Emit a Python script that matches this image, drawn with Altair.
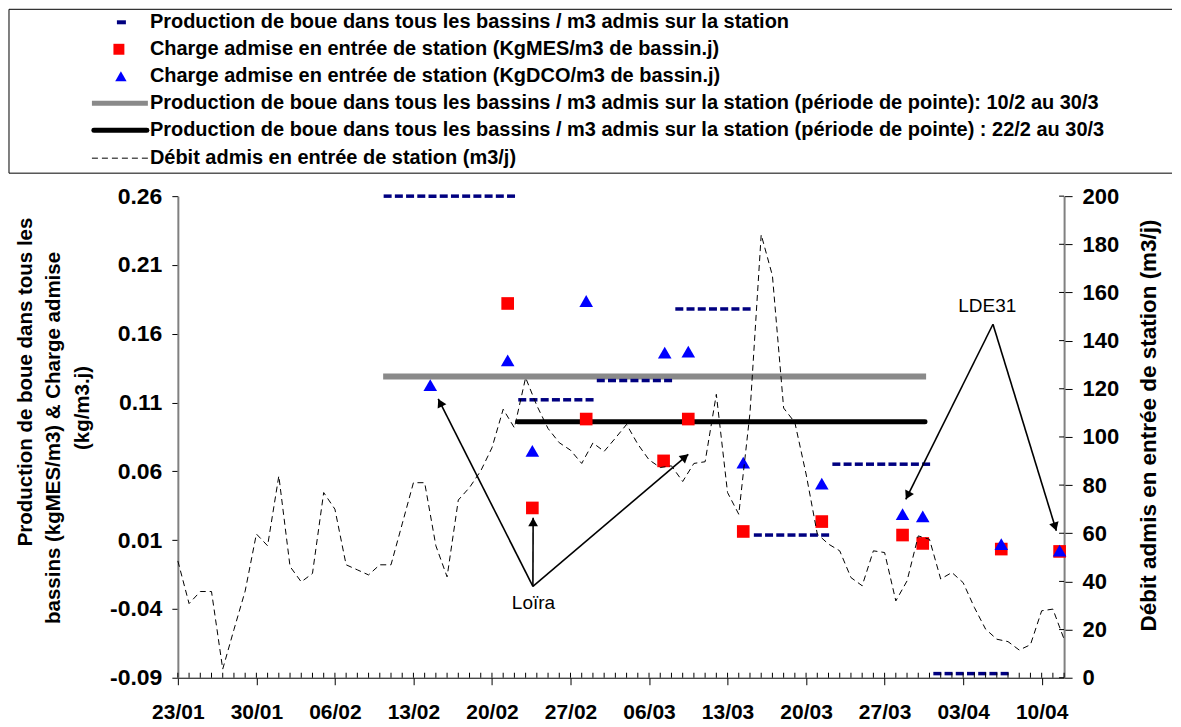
import json
import math
import altair as alt
import pandas as pd

FONT = "Liberation Sans"

# ---------------- data ----------------
date_labels = ["23/01", "30/01", "06/02", "13/02", "20/02", "27/02",
               "06/03", "13/03", "20/03", "27/03", "03/04", "10/04"]
n_days = 79  # 23/01 -> 12/04

# Débit admis en entrée de station (m3/j), one value per day from 23/01
flow_values = [48.5, 30.8, 35.8, 35.8, 3.6, 20.0, 36.0, 59.7, 54.8, 83.8,
               46.2, 39.8, 43.3, 76.9, 70.0, 46.9, 44.8, 42.7, 46.9, 46.9,
               63.9, 81.0, 81.0, 54.8, 41.9, 73.8, 79.0, 85.9, 95.5, 111.5,
               103.8, 124.6, 113.0, 103.5, 97.6, 94.5, 89.0, 97.5, 94.0, 99.5,
               105.2, 97.0, 90.5, 87.3, 88.0, 81.5, 89.0, 89.7, 117.7, 76.9,
               67.9, 110.0, 184.0, 167.0, 112.0, 106.0, 84.6, 59.7, 55.5, 52.7,
               41.6, 38.2, 52.7, 52.0, 31.9, 40.2, 58.9, 57.5, 41.0, 43.7,
               39.5, 29.2, 20.2, 16.0, 15.0, 11.5, 13.7, 27.8, 28.5, 16.0]

# Production de boue / m3 admis (daily dash markers)
prod_start_day = 18.7
prod_values = [0.26, 0.26, 0.26, 0.26, 0.26, 0.26, 0.26, 0.26, 0.26, 0.26, 0.26, 0.26,
               0.112, 0.112, 0.112, 0.112, 0.112, 0.112, 0.112,
               0.126, 0.126, 0.126, 0.126, 0.126, 0.126, 0.126,
               0.178, 0.178, 0.178, 0.178, 0.178, 0.178, 0.178,
               0.0137, 0.0137, 0.0137, 0.0137, 0.0137, 0.0137, 0.0137,
               0.0652, 0.0652, 0.0652, 0.0652, 0.0652, 0.0652, 0.0652, 0.0652, 0.0652,
               -0.087, -0.087, -0.087, -0.087, -0.087, -0.087, -0.087]

mes_days = [29.4, 31.6, 36.4, 43.3, 45.5, 50.4, 57.4, 64.6, 66.4, 73.4, 78.6]
mes_values = [0.182, 0.0334, 0.098, 0.0676, 0.098, 0.0163, 0.0235, 0.0137, 0.0076, 0.0035, 0.0018]

dco_days = [22.5, 29.4, 31.6, 36.4, 43.4, 45.5, 50.4, 57.4, 64.6, 66.4, 73.4, 78.6]
dco_values = [0.1226, 0.1407, 0.0749, 0.1838, 0.1462, 0.147, 0.0664, 0.0511, 0.0289, 0.0272, 0.0071, 0.0023]

peak_start = [18.3, 30.3]
peak_end = [66.7, 66.6]
peak_values = [0.129, 0.096]

left_ticks = [-0.09, -0.04, 0.01, 0.06, 0.11, 0.16, 0.21, 0.26]
right_ticks = [0, 20, 40, 60, 80, 100, 120, 140, 160, 180, 200]

annot_labels = ["Lo\u00efra", "LDE31"]
annot_days = [31.7, 72.15]
annot_flow = [31.2, 154.4]
arrow_from_day = [31.65, 31.65, 31.65, 72.66, 72.66]
arrow_from_flow = [37.9, 37.9, 37.9, 146.8, 146.8]
arrow_to_day = [23.21, 31.67, 45.5, 64.89, 78.31]
arrow_to_flow = [115.8, 66.4, 92.8, 74.1, 61.0]

legend_labels = [
    "Production de boue dans tous les bassins / m3 admis sur la station",
    "Charge admise en entr\u00e9e de station (KgMES/m3 de bassin.j)",
    "Charge admise en entr\u00e9e de station (KgDCO/m3 de bassin.j)",
    "Production de boue dans tous les bassins / m3 admis sur la station (p\u00e9riode de pointe): 10/2 au 30/3",
    "Production de boue dans tous les bassins / m3 admis sur la station (p\u00e9riode de pointe) : 22/2 au 30/3",
    "D\u00e9bit admis en entr\u00e9e de station (m3/j)",
]

left_title = ["Production de boue dans tous les",
              "bassins (kgMES/m3) & Charge admise",
              "(kg/m3.j)"]
right_title = "D\u00e9bit admis en entr\u00e9e de station (m3/j)"

# ---------------- layout ----------------
W, H = 887, 482
NAVY, RED, BLUE, GRAY = "#000080", "#FF0000", "#0000FF", "#8a8a8a"

flow_df = pd.DataFrame({"d": list(range(len(flow_values))), "q": flow_values})
prod_df = pd.DataFrame({"d": [prod_start_day + i for i in range(len(prod_values))],
                        "v": prod_values})
mes_df = pd.DataFrame({"d": mes_days, "v": mes_values})
dco_df = pd.DataFrame({"d": dco_days, "v": dco_values})
peak_df = pd.DataFrame({"d0": peak_start, "d1": peak_end, "v": peak_values})
minor_df = pd.DataFrame({"d": list(range(n_days + 1))})
rtick_df = pd.DataFrame({"q": right_ticks})
annot_df = pd.DataFrame({"d": annot_days, "q": annot_flow, "label": annot_labels})
arrow_df = pd.DataFrame({"d0": arrow_from_day, "q0": arrow_from_flow,
                         "d1": arrow_to_day, "q1": arrow_to_flow})

# arrow heads: rotate a triangle along each arrow, back it off so the tip hits the end
HEAD_SIZE = 95
ppd = W / n_days
ppq = H / 200.0
back = 0.433 * math.sqrt(HEAD_SIZE)
hd, hq, ha = [], [], []
for d0, q0, d1, q1 in zip(arrow_from_day, arrow_from_flow, arrow_to_day, arrow_to_flow):
    dx = (d1 - d0) * ppd
    dy = -(q1 - q0) * ppq
    L = math.hypot(dx, dy)
    ux, uy = dx / L, dy / L
    ha.append(math.degrees(math.atan2(ux, -uy)) % 360)
    hd.append(d1 - ux * back / ppd)
    hq.append(q1 + uy * back / ppq)
head_df = pd.DataFrame({"d": hd, "q": hq, "ang": ha})

x_scale = alt.Scale(domain=[0, n_days], nice=False, zero=False)
x_axis = alt.Axis(
    values=[7 * i for i in range(len(date_labels))],
    labelExpr=json.dumps(date_labels) + "[round(datum.value / 7)]",
    labelFont=FONT, labelFontSize=21, labelFontWeight="bold", labelColor="black",
    labelFlush=False, labelOverlap=False, labelPadding=17,
    tickColor="black", tickSize=7, tickWidth=1,
    domainColor="black", domainWidth=1, grid=False, title=None,
)

def xq(field):
    return alt.X(field, type="quantitative", scale=x_scale, axis=x_axis)

y_left_scale = alt.Scale(domain=[-0.09, 0.26], nice=False, zero=False)
y_left_axis = alt.Axis(
    orient="left", values=left_ticks,
    labelExpr="replace(format(datum.value, '.2f'), '\u2212', '-')",
    labelFont=FONT, labelFontSize=23, labelFontWeight="bold", labelColor="black",
    labelPadding=10, tickColor="black", tickSize=6, tickWidth=1,
    domainColor="#808080", domainWidth=2, grid=False, title=None,
)

def yl(field):
    return alt.Y(field, type="quantitative", scale=y_left_scale, axis=y_left_axis)

y_right_scale = alt.Scale(domain=[0, 200], nice=False, zero=False)
y_right_axis = alt.Axis(
    orient="right", values=right_ticks, format="d",
    labelFont=FONT, labelFontSize=22, labelFontWeight="bold", labelColor="black",
    labelPadding=10, tickColor="black", tickSize=8, tickWidth=1,
    domainColor="#808080", domainWidth=2, grid=False,
    titleFont=FONT, titleFontSize=22.5, titleFontWeight="bold", titleColor="black",
    titleAngle=270, titleAlign="center", titleBaseline="middle",
    titleX=84, titleY=229,
)

def yr(field):
    return alt.Y(field, type="quantitative", scale=y_right_scale, axis=y_right_axis,
                 title=right_title)

# ---------------- group A : left scale ----------------
gray_line = alt.Chart(peak_df.iloc[[0]]).mark_rule(
    color=GRAY, strokeWidth=6, strokeCap="butt").encode(
    x=xq("d0"), x2="d1", y=yl("v"))
black_line = alt.Chart(peak_df.iloc[[1]]).mark_rule(
    color="black", strokeWidth=5, strokeCap="round").encode(
    x=xq("d0"), x2="d1", y=yl("v"))
prod_marks = alt.Chart(prod_df).mark_tick(
    orient="horizontal", size=8, thickness=3.5, color=NAVY, opacity=1).encode(
    x=xq("d"), y=yl("v"))
mes_marks = alt.Chart(mes_df).mark_point(
    shape="square", filled=True, size=160, color=RED, opacity=1).encode(
    x=xq("d"), y=yl("v"))
dco_marks = alt.Chart(dco_df).mark_point(
    shape="triangle-up", filled=True, size=185, color=BLUE, opacity=1).encode(
    x=xq("d"), y=yl("v"))
minor_ticks = alt.Chart(minor_df).mark_rule(color="black", strokeWidth=1).encode(
    x=xq("d"), y=alt.value(H - 5), y2=alt.value(H))

group_a = alt.layer(gray_line, black_line, prod_marks, mes_marks, dco_marks, minor_ticks)

# ---------------- group B : right scale ----------------
flow_line = alt.Chart(flow_df).mark_line(
    color="black", strokeWidth=1, strokeDash=[6, 4]).encode(
    x=xq("d"), y=yr("q"))
right_inner = alt.Chart(rtick_df).mark_rule(color="black", strokeWidth=1).encode(
    y=yr("q"), x=alt.value(W - 5), x2=alt.value(W))
arrows = alt.Chart(arrow_df).mark_rule(color="black", strokeWidth=1.6).encode(
    x=xq("d0"), x2="d1", y=yr("q0"), y2="q1")
heads = alt.Chart(head_df).mark_point(
    shape="triangle-up", filled=True, size=HEAD_SIZE, color="black", opacity=1).encode(
    x=xq("d"), y=yr("q"), angle=alt.Angle("ang:Q", scale=None))
annots = alt.Chart(annot_df).mark_text(
    font=FONT, fontSize=19, color="black", align="center", baseline="middle").encode(
    x=xq("d"), y=yr("q"), text="label:N")

group_b = alt.layer(flow_line, right_inner, arrows, heads, annots)

# ---------------- left axis title (three centred lines) ----------------
title_x = [-152, -124, -95]
title_y = [186, 242, 212]
title_layers = []
for line, tx, ty in zip(left_title, title_x, title_y):
    tdf = pd.DataFrame({"label": [line]})
    title_layers.append(alt.Chart(tdf).mark_text(
        font=FONT, fontSize=20.5, fontWeight="bold", color="black",
        angle=270, align="center", baseline="middle").encode(
        x=alt.value(tx), y=alt.value(ty), text="label:N"))

# ---------------- legend (drawn above the plot) ----------------
LEG_LEFT, LEG_TOP, LEG_BOTTOM, LEG_RIGHT = -169, -187, -23, 995
row_y = [-174, -147, -120, -93, -66, -38]
legend_layers = []
border_df = pd.DataFrame({"k": [0]})
legend_layers.append(alt.Chart(border_df).mark_rule(color="black", strokeWidth=1).encode(
    x=alt.value(LEG_LEFT), y=alt.value(LEG_TOP), y2=alt.value(LEG_BOTTOM)))
legend_layers.append(alt.Chart(border_df).mark_rule(color="black", strokeWidth=1).encode(
    x=alt.value(LEG_LEFT), x2=alt.value(LEG_RIGHT), y=alt.value(LEG_TOP)))
legend_layers.append(alt.Chart(border_df).mark_rule(color="black", strokeWidth=1).encode(
    x=alt.value(LEG_LEFT), x2=alt.value(LEG_RIGHT), y=alt.value(LEG_BOTTOM)))

for i, label in enumerate(legend_labels):
    ldf = pd.DataFrame({"label": [label]})
    y = row_y[i]
    if i == 0:
        sym = alt.Chart(ldf).mark_rule(color=NAVY, strokeWidth=4, strokeCap="butt").encode(
            x=alt.value(-61), x2=alt.value(-52), y=alt.value(y))
    elif i == 1:
        sym = alt.Chart(ldf).mark_point(shape="square", filled=True, size=120,
                                        color=RED, opacity=1).encode(
            x=alt.value(-59), y=alt.value(y))
    elif i == 2:
        sym = alt.Chart(ldf).mark_point(shape="triangle-up", filled=True, size=130,
                                        color=BLUE, opacity=1).encode(
            x=alt.value(-57), y=alt.value(y))
    elif i == 3:
        sym = alt.Chart(ldf).mark_rule(color=GRAY, strokeWidth=5, strokeCap="butt").encode(
            x=alt.value(-86), x2=alt.value(-30), y=alt.value(y))
    elif i == 4:
        sym = alt.Chart(ldf).mark_rule(color="black", strokeWidth=5, strokeCap="round").encode(
            x=alt.value(-84), x2=alt.value(-31), y=alt.value(y))
    else:
        sym = alt.Chart(ldf).mark_rule(color="black", strokeWidth=1, strokeDash=[6, 4]).encode(
            x=alt.value(-86), x2=alt.value(-30), y=alt.value(y))
    txt = alt.Chart(ldf).mark_text(font=FONT, fontSize=20, fontWeight="bold",
                                   color="black", align="left", baseline="middle").encode(
        x=alt.value(-28), y=alt.value(y), text="label:N")
    legend_layers.extend([sym, txt])

chart = alt.layer(group_a, group_b, *title_layers, *legend_layers).resolve_scale(
    y="independent"
).properties(
    width=W, height=H, padding=0
).configure_view(stroke=None).configure_axis(grid=False)

chart.save("out.html", embed_options={"renderer": "svg", "actions": False})
